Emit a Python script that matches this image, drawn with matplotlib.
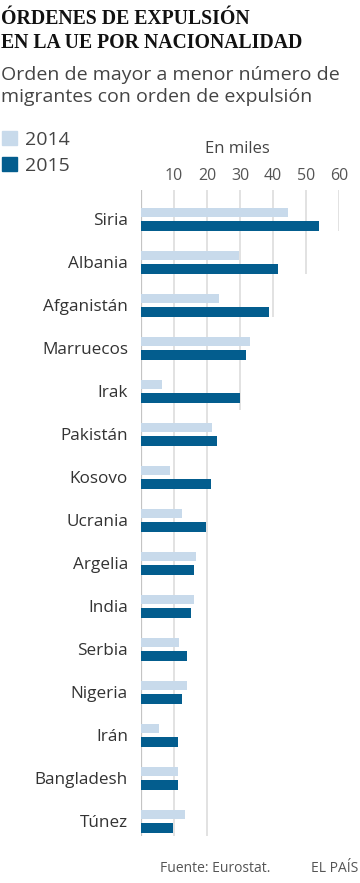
import matplotlib.pyplot as plt
import numpy as np

# datos (miles de órdenes de expulsión)
paises = ['Siria', 'Albania', 'Afganistán', 'Marruecos', 'Irak', 'Pakistán',
          'Kosovo', 'Ucrania', 'Argelia', 'India', 'Serbia', 'Nigeria',
          'Irán', 'Bangladesh', 'Túnez']
v2014 = [44.4, 29.8, 23.5, 33.0, 6.4, 21.4, 8.9, 12.5, 16.7, 16.1, 11.6, 13.8, 5.5, 11.3, 13.4]
v2015 = [54.0, 41.4, 38.6, 31.9, 30.0, 22.9, 21.3, 19.6, 16.1, 15.1, 14.0, 12.5, 11.1, 11.3, 9.8]
ticks = [10, 20, 30, 40, 50, 60]
# hasta qué fila baja cada línea de la rejilla
grid_end = [14.35, 14.35, 4.44, 2.27, 1.27, 0.27]

C14 = '#c8daeb'
C15 = '#035d8e'
W, H = 360, 883
SANS = 'Open Sans'

fig = plt.figure(figsize=(W / 100, H / 100), dpi=100)

def fy(py):
    return 1 - py / H

# ejes: x de 141px a 339px, y de 190px a 836px
ax = fig.add_axes([141 / W, fy(836), (339.3 - 141) / W, (836 - 190) / H])
y = np.arange(len(paises))
ax.set_xlim(0, 60)
ax.set_ylim(14.34, -0.68)

for t, e in zip(ticks, grid_end):
    ax.vlines(t, -0.68, e, color='#e2e2e2', lw=1.4, zorder=0)
ax.vlines(0, -0.68, 14.35, color='#c4c4c4', lw=1.6, zorder=0)

ax.barh(y - 0.157, v2014, height=0.22, color=C14, zorder=2)
ax.barh(y + 0.157, v2015, height=0.235, color=C15, zorder=2)

ax.set_yticks(y)
ax.set_yticklabels(paises, fontsize=12.3, color='#333333', family=SANS)
ax.tick_params(axis='y', length=0, pad=9.4)
ax.set_xticks([])
for s in ax.spines.values():
    s.set_visible(False)

for t in ticks:
    ax.text(t, -0.68 - 10 / 43, str(t), ha='center', va='baseline',
            fontsize=11.5, color='#555555', family=SANS,
            transform=ax.transData)

# títulos
tit = dict(family='Liberation Serif', weight='bold', fontsize=14.2, color='#111111')
fig.text(1 / W, fy(24), 'ÓRDENES DE EXPULSIÓN', va='baseline', **tit)
fig.text(1 / W, fy(48), 'EN LA UE POR NACIONALIDAD', va='baseline', **tit)
sub = dict(family=SANS, fontsize=14, color='#444444')
fig.text(1 / W, fy(80), 'Orden de mayor a menor número de', va='baseline', **sub)
fig.text(1 / W, fy(102), 'migrantes con orden de expulsión', va='baseline', **sub)

# leyenda
for col, lab, base in [(C14, '2014', 145), (C15, '2015', 171)]:
    fig.patches.append(plt.Rectangle((2 / W, fy(base)), 15 / W, 14 / H,
                                     color=col, transform=fig.transFigure))
    fig.text(25 / W, fy(base), lab, va='baseline', family=SANS,
             fontsize=14, color='#444444')

fig.text(237 / W, fy(153), 'En miles', ha='center', va='baseline',
         family=SANS, fontsize=12, color='#444444')

fig.text(160 / W, fy(872), 'Fuente: Eurostat.', va='baseline',
         family=SANS, fontsize=10, color='#555555')
fig.text(358 / W, fy(872), 'EL PAÍS', ha='right', va='baseline',
         family=SANS, fontsize=10, color='#555555')

fig.savefig('out.png', dpi=100)
